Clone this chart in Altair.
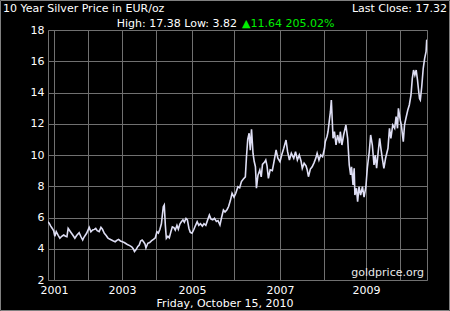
import altair as alt
import pandas as pd

# ---- data ----
dates = [
    "2000-10-15", "2000-11-01", "2000-11-20", "2000-12-10", "2000-12-28",
    "2001-01-10", "2001-01-25", "2001-02-15", "2001-03-05", "2001-03-25", "2001-04-15",
    "2001-05-05", "2001-05-20", "2001-06-02", "2001-06-25", "2001-07-08", "2001-07-25",
    "2001-08-13", "2001-09-01", "2001-09-28", "2001-10-15", "2001-11-05", "2001-11-20",
    "2001-12-17",
    "2002-01-14", "2002-02-01", "2002-02-20", "2002-03-10", "2002-03-25", "2002-04-10",
    "2002-05-01", "2002-05-20", "2002-06-05", "2002-06-25", "2002-07-15", "2002-08-01",
    "2002-08-20", "2002-09-10", "2002-10-01", "2002-10-20", "2002-11-10", "2002-11-25",
    "2002-12-15",
    "2003-01-05", "2003-01-25", "2003-02-15", "2003-03-05", "2003-03-25", "2003-04-15",
    "2003-05-01", "2003-05-15", "2003-06-01", "2003-06-20", "2003-07-05", "2003-07-20",
    "2003-08-05", "2003-08-20", "2003-09-05", "2003-09-15", "2003-10-05", "2003-10-25",
    "2003-11-15", "2003-12-05", "2003-12-25",
    "2004-01-10", "2004-01-25", "2004-02-10", "2004-02-25", "2004-03-15", "2004-03-25",
    "2004-04-05", "2004-04-15", "2004-05-01", "2004-05-15", "2004-06-01", "2004-06-15",
    "2004-07-01", "2004-07-15", "2004-08-01", "2004-08-15", "2004-09-01", "2004-09-15",
    "2004-10-01", "2004-10-15", "2004-11-01", "2004-11-15", "2004-12-01", "2004-12-15",
    "2005-01-01", "2005-01-15", "2005-02-01", "2005-02-15", "2005-03-01", "2005-03-15",
    "2005-04-01", "2005-04-15", "2005-05-01", "2005-05-15", "2005-06-01", "2005-06-15",
    "2005-07-01", "2005-07-15", "2005-08-01", "2005-08-15", "2005-09-01", "2005-09-15",
    "2005-10-01", "2005-10-15", "2005-11-01", "2005-11-15", "2005-12-01", "2005-12-15",
    "2006-01-01", "2006-01-15", "2006-02-01", "2006-02-15", "2006-03-01", "2006-03-15",
    "2006-04-01", "2006-04-10", "2006-04-20", "2006-05-01", "2006-05-10", "2006-05-15",
    "2006-05-20", "2006-06-01", "2006-06-10", "2006-06-20", "2006-06-28", "2006-07-10",
    "2006-07-25", "2006-08-05", "2006-08-15", "2006-09-01", "2006-09-10", "2006-09-20",
    "2006-10-01", "2006-10-15", "2006-11-01", "2006-11-15", "2006-12-01", "2006-12-15",
    "2007-01-01", "2007-01-15", "2007-02-01", "2007-02-20", "2007-03-05", "2007-03-20",
    "2007-04-05", "2007-04-25", "2007-05-10", "2007-05-25", "2007-06-10", "2007-06-25",
    "2007-07-05", "2007-07-20", "2007-08-05", "2007-08-15", "2007-08-25", "2007-09-10",
    "2007-09-25", "2007-10-10", "2007-10-25", "2007-11-05", "2007-11-20", "2007-12-05",
    "2007-12-20",
    "2008-01-05", "2008-01-12", "2008-01-28", "2008-02-05", "2008-02-18", "2008-02-26",
    "2008-03-05", "2008-03-12", "2008-03-20", "2008-04-01", "2008-04-15", "2008-04-28",
    "2008-05-10", "2008-05-15", "2008-05-22", "2008-06-05", "2008-06-20", "2008-07-10",
    "2008-07-25", "2008-08-08", "2008-08-20", "2008-08-28", "2008-09-10", "2008-09-20",
    "2008-09-26", "2008-10-10", "2008-10-20", "2008-11-01", "2008-11-15", "2008-12-01",
    "2008-12-15", "2008-12-31",
    "2009-01-15", "2009-02-05", "2009-02-20", "2009-03-10", "2009-03-28", "2009-04-10",
    "2009-04-25", "2009-05-12", "2009-05-28", "2009-06-10", "2009-06-25", "2009-07-12",
    "2009-07-30", "2009-08-25", "2009-09-10", "2009-09-25", "2009-10-15", "2009-11-05",
    "2009-11-20", "2009-12-05", "2009-12-15",
    "2010-01-05", "2010-01-15", "2010-02-05", "2010-02-18", "2010-03-05", "2010-03-25",
    "2010-04-10", "2010-04-28", "2010-05-12", "2010-05-25", "2010-06-08", "2010-06-22",
    "2010-07-06", "2010-07-15", "2010-07-28", "2010-08-05", "2010-08-20", "2010-09-05",
    "2010-09-20", "2010-10-05", "2010-10-12", "2010-10-15",
]
prices = [
    5.73, 5.62, 5.45, 5.30, 5.15,
    4.80, 5.10, 4.85, 4.67, 4.80, 4.88,
    4.80, 4.77, 5.30, 5.10, 4.99, 4.85,
    4.67, 4.85, 5.03, 4.80, 4.56, 4.75,
    4.99,
    5.37, 5.09, 5.20, 5.24, 5.30, 5.16,
    5.10, 5.37, 5.25, 4.99, 4.85, 4.70,
    4.62, 4.56, 4.50, 4.45, 4.55, 4.60,
    4.50,
    4.45, 4.40, 4.32, 4.25, 4.20, 4.12,
    4.00, 3.82, 3.95, 4.15, 4.24, 4.50,
    4.56, 4.45, 4.30, 4.05, 4.35, 4.40,
    4.52, 4.60, 4.70,
    5.09, 5.00, 5.25, 5.60, 6.69, 6.80,
    5.50, 4.67, 4.80, 4.70, 5.10, 5.40,
    5.35, 5.20, 5.50, 5.25, 5.60, 5.73,
    5.85, 5.70, 5.94, 5.85, 5.30, 5.05,
    5.00, 5.20, 5.50, 5.73, 5.50, 5.60,
    5.45, 5.60, 5.50, 5.80, 6.16, 5.90,
    5.85, 5.95, 5.75, 5.80, 5.52, 6.00,
    6.48, 6.35, 6.50, 6.70, 7.10, 7.55,
    7.30, 7.55, 7.97, 7.90, 8.30, 8.45,
    8.60, 9.89, 11.00, 11.39, 10.30, 11.00,
    11.64, 10.10, 9.60, 9.25, 7.87, 8.70,
    9.04, 8.60, 9.40, 9.55, 9.68, 9.30,
    8.50, 9.05, 9.00, 9.60, 10.32, 9.80,
    9.57, 10.00, 10.43, 10.96, 10.21, 9.68,
    10.11, 9.79, 10.21, 9.68, 10.00, 9.60,
    9.15, 9.47, 9.30, 9.04, 8.61, 9.10,
    9.25, 9.50, 9.80, 10.11, 9.68, 10.00,
    9.89,
    10.40, 10.85, 11.20, 11.49, 12.30, 12.77,
    13.52, 12.35, 11.07, 11.49, 10.64, 11.28,
    10.90, 10.75, 11.49, 10.64, 11.28, 11.92,
    11.07, 9.36, 8.72, 9.25, 8.08, 9.15,
    7.44, 7.87, 7.02, 7.97, 7.44, 7.97,
    7.30, 7.97,
    9.15, 10.21, 11.28, 10.64, 9.36, 10.00,
    9.15, 10.21, 11.07, 10.43, 9.79, 9.15,
    9.79, 10.43, 11.71, 11.07, 11.92, 11.71,
    12.45, 11.71, 12.99,
    12.20, 11.92, 10.85, 11.92, 12.35, 12.88,
    13.20, 13.84, 14.91, 15.44, 15.12, 15.44,
    14.80, 14.27, 13.60, 13.52, 14.37, 15.55,
    16.19, 16.61, 17.38, 17.32,
]

# axis layout (the reference's time axis is not uniform: year widths differ)
axis_breaks = ["2000-10-15", "2001-01-01", "2002-01-01", "2003-01-01", "2004-01-01",
               "2005-01-01", "2006-01-01", "2007-01-01", "2008-01-01", "2009-01-01",
               "2010-01-01", "2010-10-15"]
y_ticks = [2, 4, 6, 8, 10, 12, 14, 16, 18]

title_text = "10 Year Silver Price in EUR/oz"
last_close_text = "Last Close: 17.32"
high_low_text = "High: 17.38 Low: 3.82"
change_text = "\u25b211.64 205.02%"
date_text = "Friday, October 15, 2010"
credit_text = "goldprice.org"

W, H = 379, 250
break_px = [0, 6, 40, 74, 108, 144, 186, 232, 276, 318, 352, 379]

FONT = "DejaVu Sans"
GRID = "#707070"

df = pd.DataFrame({"date": dates, "price": prices})


def ms(s):
    return int(pd.Timestamp(s, tz="UTC").value // 10**6)


x_scale = alt.Scale(type="linear", domain=[ms(s) for s in axis_breaks], range=break_px,
                    nice=False, zero=False)

line = alt.Chart(df).transform_calculate(
    t="time(toDate(datum.date))"
).mark_line(color="#dedef4", strokeWidth=1.6, clip=True).encode(
    x=alt.X("t:Q", scale=x_scale,
            axis=alt.Axis(values=[ms(s) for s in axis_breaks[1:-1]],
                          labelExpr="utcyear(datum.value) % 2 == 1 ? utcFormat(datum.value, '%Y') : ''",
                          title=None, grid=True, gridColor=GRID, gridOpacity=1, gridWidth=1,
                          domain=False, ticks=False, labelPadding=4, labelColor="#ffffff",
                          labelFont=FONT, labelFontSize=11, labelOverlap=False)),
    y=alt.Y("price:Q", scale=alt.Scale(domain=[2, 18], nice=False, zero=False),
            axis=alt.Axis(values=y_ticks, title=None, grid=True, gridColor=GRID, gridOpacity=1,
                          domain=False, ticks=False, labelPadding=4, labelColor="#ffffff",
                          labelFont=FONT, labelFontSize=11, format="d")),
)


def label(txt, x, y, align, color="#ffffff"):
    return alt.Chart(pd.DataFrame({"t": [txt]})).mark_text(
        align=align, baseline="alphabetic", font=FONT, fontSize=11, color=color
    ).encode(text="t:N", x=alt.value(x), y=alt.value(y))


border = alt.Chart(pd.DataFrame({"a": [0]})).mark_rect(
    fill=None, stroke="#808080", strokeWidth=1
).encode(x=alt.value(-47.5), x2=alt.value(401.5), y=alt.value(-29.5), y2=alt.value(280.5))

chart = alt.layer(
    line,
    label(title_text, -45, -18.5, "left"),
    label(last_close_text, 399, -18.5, "right"),
    label(high_low_text, 189, -3.5, "right"),
    label(change_text, 194, -3.5, "left", "#00ee00"),
    label(credit_text, 376, 246, "right", "#e8e8e8"),
    label(date_text, 177, 276.5, "center"),
    border,
).properties(
    width=W, height=H,
    autosize=alt.AutoSizeParams(type="none"),
    padding={"left": 48, "top": 30, "right": 23, "bottom": 31},
    background="#000000",
).configure_view(stroke=GRID, strokeWidth=1)

chart.save("out.html", embed_options={"renderer": "svg", "actions": False})
